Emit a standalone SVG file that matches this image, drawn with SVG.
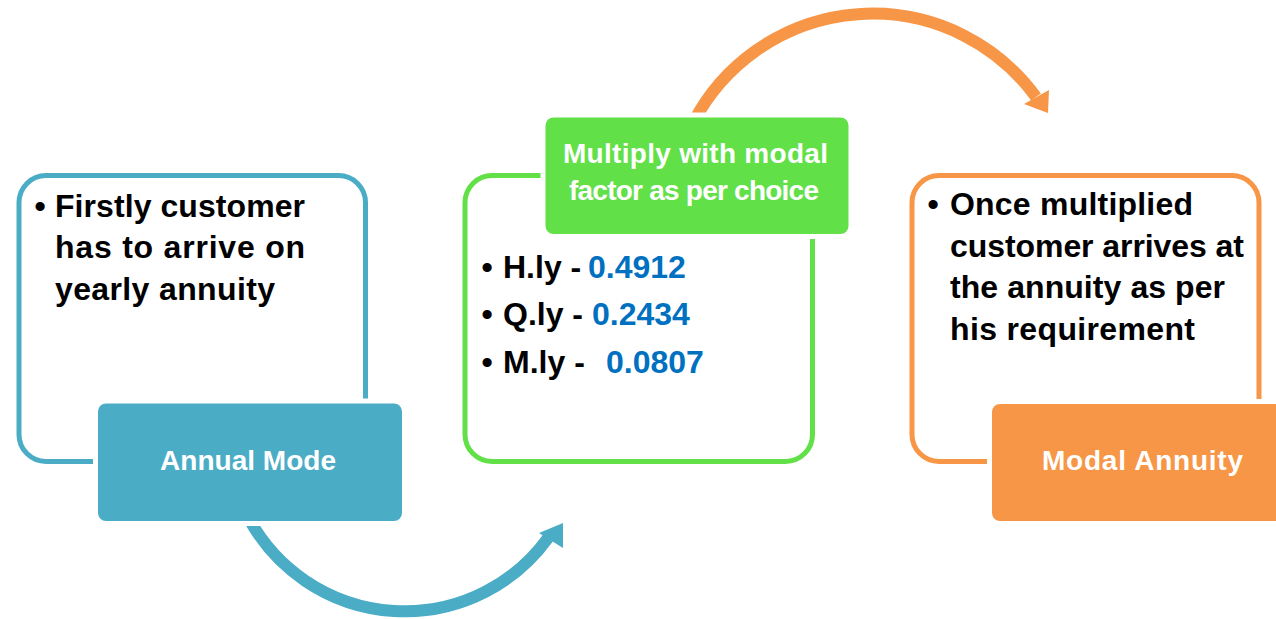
<svg xmlns="http://www.w3.org/2000/svg" width="1276" height="619" viewBox="0 0 1276 619">
<style>
.t{font-family:"Liberation Sans",Arial,sans-serif;font-weight:bold}
.body{font-size:32px;fill:#000}
.lab{font-size:28px;fill:#fff}
.val{fill:#0070C0}
.outline{fill:none;stroke-width:5}
.fill{stroke:#fff;stroke-width:10;paint-order:stroke}
.arc{fill:none;stroke-width:12}
</style>
<rect width="1276" height="619" fill="#fff"/>
<g id="connectors">
<path class="arc" stroke="#4BACC6" d="M 249.7 520 A 177 177 0 0 0 548 538"/>
<polygon fill="#4BACC6" points="539,533 563,523 563,548"/>
<path class="arc" stroke="#F79646" d="M 693.5 122 A 202 202 0 0 1 1036 97"/>
<polygon fill="#F79646" points="1024,104 1049,90 1048,113"/>
</g>
<g id="annual-mode">
<rect class="outline" stroke="#4BACC6" x="19" y="175.5" width="346.5" height="286" rx="27"/>
<text class="t body" x="40" y="217" text-anchor="middle">•</text>
<text class="t body" x="55" y="217" textLength="250" lengthAdjust="spacing">Firstly customer</text>
<text class="t body" x="55" y="258" textLength="250" lengthAdjust="spacing">has to arrive on</text>
<text class="t body" x="55" y="300" textLength="220" lengthAdjust="spacing">yearly annuity</text>
<rect class="fill" fill="#4BACC6" x="98" y="403.5" width="304" height="117.5" rx="8"/>
<text class="t lab" x="160" y="470" textLength="176" lengthAdjust="spacing">Annual Mode</text>
</g>
<g id="modal-factor">
<rect class="outline" stroke="#61E048" x="465" y="175.5" width="347.5" height="286" rx="27"/>
<text class="t body" x="487" y="278" text-anchor="middle">•</text>
<text class="t body" x="503" y="278">H.ly - <tspan class="val" x="588">0.4912</tspan></text>
<text class="t body" x="487" y="325" text-anchor="middle">•</text>
<text class="t body" x="503" y="325">Q.ly - <tspan class="val" x="592">0.2434</tspan></text>
<text class="t body" x="487" y="373" text-anchor="middle">•</text>
<text class="t body" x="503" y="373">M.ly - <tspan class="val" x="606">0.0807</tspan></text>
<rect class="fill" fill="#61E048" x="545.5" y="117.5" width="303" height="116.5" rx="8"/>
<text class="t lab" x="563" y="163" font-size="27" textLength="265" lengthAdjust="spacing">Multiply with modal</text>
<text class="t lab" x="569" y="200" font-size="27" textLength="250" lengthAdjust="spacing">factor as per choice</text>
</g>
<g id="modal-annuity">
<rect class="outline" stroke="#F79646" x="912" y="175.5" width="347" height="286" rx="27"/>
<text class="t body" x="933" y="215" text-anchor="middle">•</text>
<text class="t body" x="950" y="215" textLength="243" lengthAdjust="spacing">Once multiplied</text>
<text class="t body" x="950" y="257" textLength="294" lengthAdjust="spacing">customer arrives at</text>
<text class="t body" x="950" y="298" textLength="275" lengthAdjust="spacing">the annuity as per</text>
<text class="t body" x="950" y="340" textLength="245" lengthAdjust="spacing">his requirement</text>
<rect class="fill" fill="#F79646" x="992" y="404" width="300" height="117" rx="8"/>
<text class="t lab" x="1042" y="470" textLength="201" lengthAdjust="spacing">Modal  Annuity</text>
</g>
</svg>
